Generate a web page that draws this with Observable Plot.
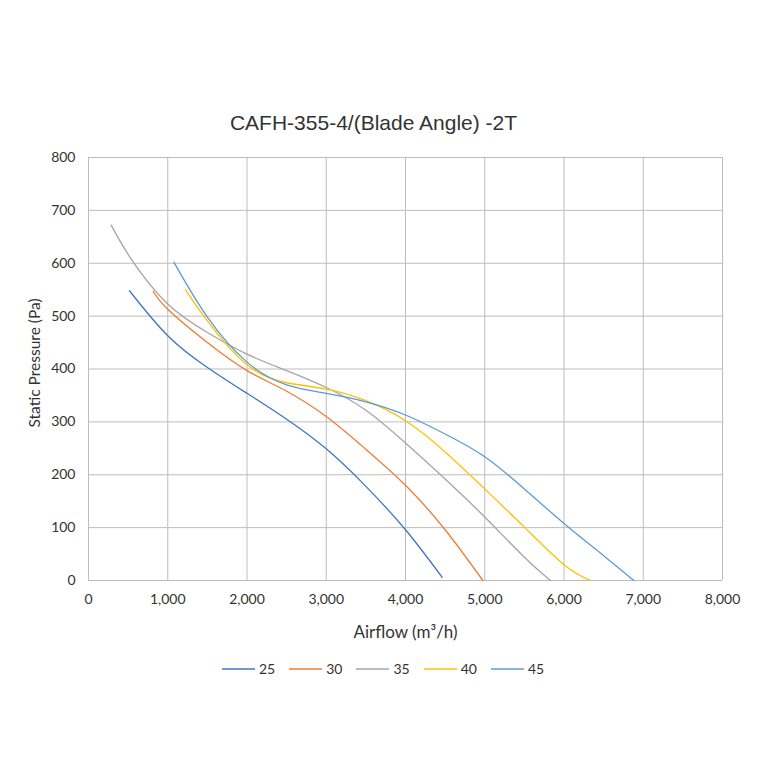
<!DOCTYPE html>
<html>
<head>
<meta charset="utf-8">
<script src="https://cdn.jsdelivr.net/npm/d3@7"></script>
<script src="https://cdn.jsdelivr.net/npm/@observablehq/plot@0.6"></script>
<style>
  html, body { margin: 0; padding: 0; background: #fff; }
  #wrap { position: relative; width: 760px; height: 760px; overflow: hidden; }
  #title { position: absolute; left: 0; top: 111px; width: 747px; text-align: center;
           font-family: "Liberation Sans", Arial, sans-serif; font-size: 21px; color: #333; }
  #chart { position: absolute; left: 0; top: 0; }
  #ylabel { position: absolute; left: 34px; top: 363px; transform: translate(-50%, -50%) rotate(-90deg);
            white-space: nowrap; font-family: Lato, "Open Sans", sans-serif; font-size: 15.5px; color: #333; }
  #legend { position: absolute; left: 0; top: 660px; width: 766px; display: flex; justify-content: center;
            font-family: Lato, "Open Sans", sans-serif; font-size: 14px; color: #333; }
  .item { display: flex; align-items: center; margin: 0 7px; }
  .item svg { margin-right: 4px; }
</style>
</head>
<body>
<div id="wrap">
  <div id="title"></div>
  <div id="chart"></div>
  <div id="ylabel"></div>
  <div id="legend"></div>
</div>
<script>
const titleText = "CAFH-355-4/(Blade Angle) -2T";
const xLabel = "Airflow (m³/h)";
const yLabel = "Static Pressure (Pa)";
const seriesNames = ["25", "30", "35", "40", "45"];
const seriesColors = ["#4472C4", "#ED7D31", "#A5A5A5", "#FFC000", "#5B9BD5"];
const xTicks = [0, 1000, 2000, 3000, 4000, 5000, 6000, 7000, 8000];
const yTicks = [0, 100, 200, 300, 400, 500, 600, 700, 800];

const flow25 = [517, 1000, 1500, 2000, 2500, 3000, 3500, 4000, 4463];
const pres25 = [548, 463, 403, 354, 305, 249, 178, 96, 6];

const flow30 = [816, 1000, 1500, 2000, 2500, 3000, 3500, 4000, 4500, 4976];
const pres30 = [547, 513, 450, 397, 358, 310, 248, 180, 96, 0];

const flow35 = [286, 551, 1000, 1500, 2000, 2500, 3000, 3500, 4000, 4500, 5000, 5500, 5830];
const pres35 = [672, 605, 523, 469, 428, 397, 365, 322, 260, 192, 120, 44, 0];

const flow40 = [1224, 1500, 2000, 2500, 3000, 3500, 4000, 4500, 5000, 5500, 6000, 6334];
const pres40 = [550, 491, 408, 374, 362, 340, 302, 243, 173, 101, 30, 0];

const flow45 = [1077, 1500, 2000, 2500, 3000, 3500, 4000, 4500, 5000, 5500, 6000, 6500, 6881];
const pres45 = [602, 498, 413, 370, 354, 338, 313, 277, 234, 173, 108, 47, 0];

const flows = [flow25, flow30, flow35, flow40, flow45];
const press = [pres25, pres30, pres35, pres40, pres45];

const data = [];
seriesNames.forEach((name, i) => {
  flows[i].forEach((f, j) => data.push({series: name, flow: f, pressure: press[i][j]}));
});

document.getElementById("title").textContent = titleText;
document.getElementById("ylabel").textContent = yLabel;

const grid = "#bdbdbd";
const chart = Plot.plot({
  width: 760,
  height: 760,
  marginTop: 157,
  marginBottom: 180,
  marginLeft: 88,
  marginRight: 38,
  style: {fontFamily: "Lato, 'Open Sans', sans-serif", fontSize: "14px", color: "#333", background: "transparent"},
  x: {domain: [0, 8000], ticks: xTicks},
  y: {domain: [0, 800], ticks: yTicks},
  color: {domain: seriesNames, range: seriesColors},
  marks: [
    Plot.gridX(xTicks, {stroke: grid, strokeOpacity: 1, strokeWidth: 1}),
    Plot.gridY(yTicks, {stroke: grid, strokeOpacity: 1, strokeWidth: 1}),
    Plot.axisX({ticks: xTicks, tickSize: 0, tickPadding: 14, tickFormat: d3.format(","), label: null, fill: "#333"}),
    Plot.axisY({ticks: yTicks, tickSize: 0, tickPadding: 13, tickFormat: d => String(d), label: null, fill: "#333"}),
    Plot.line(data, {x: "flow", y: "pressure", z: "series", stroke: "series", strokeWidth: 1.3, curve: "natural"}),
    Plot.text([xLabel], {frameAnchor: "bottom", dy: 57, text: d => d, fontSize: 17, fill: "#333"})
  ]
});
document.getElementById("chart").appendChild(chart);

const legend = document.getElementById("legend");
seriesNames.forEach((name, i) => {
  const item = document.createElement("div");
  item.className = "item";
  item.innerHTML = `<svg width="33" height="10"><line x1="0" y1="5" x2="33" y2="5" stroke="${seriesColors[i]}" stroke-width="1.5"/></svg><span>${name}</span>`;
  legend.appendChild(item);
});
</script>
</body>
</html>
